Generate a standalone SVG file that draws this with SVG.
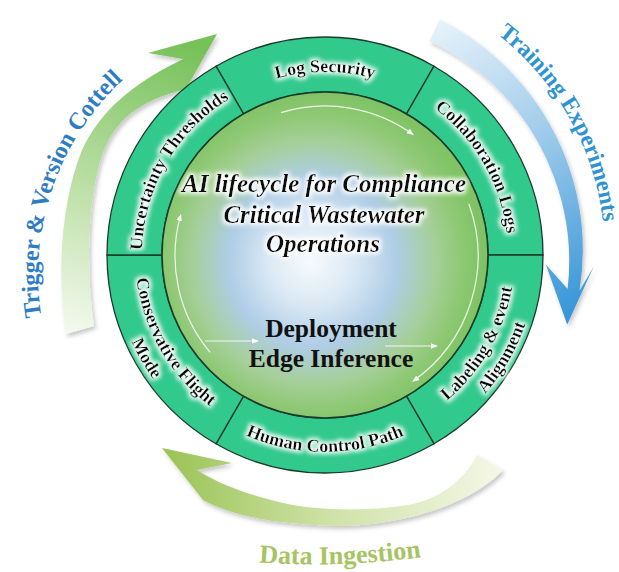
<svg xmlns="http://www.w3.org/2000/svg" width="619" height="572" viewBox="0 0 619 572">
  <defs>
    <style>
      .ring-txt { font-family: "Liberation Serif", "Times New Roman", serif; font-weight: bold; font-size: 18px; fill: #111; }
      .title { font-family: "Liberation Serif", "Times New Roman", serif; font-weight: bold; font-style: italic; font-size: 25px; fill: #111; text-anchor: middle; }
      .sub { font-family: "Liberation Serif", "Times New Roman", serif; font-weight: bold; font-size: 25.5px; fill: #111; text-anchor: middle; }
      .outer-lbl { font-family: "Liberation Serif", "Times New Roman", serif; font-weight: bold; }
      .seg { fill: #32c98d; stroke: #1b3a2b; stroke-width: 1.3; }
      .flow { fill: none; stroke: #ffffff; stroke-width: 1.2; stroke-opacity: 0.85; }
    </style>

    <!-- arrow fills -->
    <linearGradient id="gGreen" gradientUnits="userSpaceOnUse" x1="80" y1="335" x2="195" y2="45">
      <stop offset="0" stop-color="#f3f9ee"/>
      <stop offset="0.4" stop-color="#c2e2ad"/>
      <stop offset="1" stop-color="#76c159"/>
    </linearGradient>
    <linearGradient id="gBlue" gradientUnits="userSpaceOnUse" x1="435" y1="25" x2="575" y2="320">
      <stop offset="0" stop-color="#e6f2fa"/>
      <stop offset="0.4" stop-color="#a6cfec"/>
      <stop offset="1" stop-color="#3494d7"/>
    </linearGradient>
    <linearGradient id="gOlive" gradientUnits="userSpaceOnUse" x1="500" y1="460" x2="165" y2="455">
      <stop offset="0" stop-color="#f4f7e6"/>
      <stop offset="0.5" stop-color="#cfe2a7"/>
      <stop offset="1" stop-color="#9bc355"/>
    </linearGradient>
    <radialGradient id="gCore" gradientUnits="userSpaceOnUse" cx="315" cy="262" r="168" fx="310" fy="262">
      <stop offset="0" stop-color="#f7fafd"/>
      <stop offset="0.25" stop-color="#dbe9f4"/>
      <stop offset="0.5" stop-color="#afcde6"/>
      <stop offset="0.72" stop-color="#a6cf9a"/>
      <stop offset="0.88" stop-color="#8ec873"/>
      <stop offset="1" stop-color="#80c365"/>
    </radialGradient>

    <filter id="shadow" x="-15%" y="-15%" width="140%" height="140%">
      <feDropShadow dx="2" dy="3" stdDeviation="2" flood-color="#000" flood-opacity="0.22"/>
    </filter>
    <filter id="glow" x="-20%" y="-40%" width="140%" height="180%">
      <feMorphology in="SourceAlpha" operator="dilate" radius="1.5" result="d"/>
      <feGaussianBlur in="d" stdDeviation="2" result="b"/>
      <feFlood flood-color="#ffffff" flood-opacity="0.95"/>
      <feComposite in2="b" operator="in" result="g"/>
      <feMerge><feMergeNode in="g"/><feMergeNode in="SourceGraphic"/></feMerge>
    </filter>

    <marker id="wh" viewBox="0 0 10 10" refX="9" refY="5" markerWidth="7" markerHeight="7" markerUnits="userSpaceOnUse" orient="auto">
      <path d="M0,1 L10,5 L0,9 Z" fill="#ffffff"/>
    </marker>

    <!-- text baselines -->
    <path id="pLog" d="M233.5,96.5 A183,183 0 0 1 416.5,96.5"/>
    <path id="pCollab" d="M416.5,96.5 A183,183 0 0 1 508,255"/>
    <path id="pUnc" d="M142,255 A183,183 0 0 1 233.5,96.5"/>
    <path id="pHuman" d="M226.5,425.6 A197,197 0 0 0 423.5,425.6"/>
    <path id="pLab1" d="M420,419.5 A190,190 0 0 0 515,255"/>
    <path id="pLab2" d="M431,438.6 A212,212 0 0 0 537,255"/>
    <path id="pCon1" d="M135,255 A190,190 0 0 0 230,419.5"/>
    <path id="pCon2" d="M113,255 A212,212 0 0 0 219,438.6"/>
    <path id="pTrig" d="M41.3,316.8 A267,267 0 0 1 171.5,43.8"/>
    <path id="pTrain" d="M497.4,34.4 A280,280 0 0 1 600.7,303.6"/>
    <path id="pData" d="M215,558 Q338,574 465,550"/>
  </defs>

  <rect width="619" height="572" fill="#ffffff"/>

  <!-- cycle arrows around the ring -->
  <g id="connectors">
    <g id="arrow-trigger">
      <path filter="url(#shadow)" fill="url(#gGreen)" d="M66,334 C56,270 62,200 82,150 C100,112 130,85 183,59 L148,53 L217,34 L186,89 C150,98 120,112 104,150 C90,185 84,260 94,326 Z"/>
      <text class="outer-lbl" font-size="24" fill="#2e7dc4"><textPath href="#pTrig">Trigger &amp; Version Cottell</textPath></text>
    </g>
    <g id="arrow-training">
      <path filter="url(#shadow)" fill="url(#gBlue)" d="M439.9,19.5 A260,260 0 0 1 565.6,157.8 A258,258 0 0 1 579.5,290.8 L593.7,266.7 L567.2,324.5 L545.8,264.6 L567.6,289.1 A243,243 0 0 0 548.9,164.5 A240,240 0 0 0 429.3,41.1 Z"/>
      <text class="outer-lbl" font-size="23.5" fill="#2d93d2"><textPath href="#pTrain">Training Experiments</textPath></text>
    </g>
    <g id="arrow-ingestion">
      <path filter="url(#shadow)" fill="url(#gOlive)" d="M477,455 C465,480 440,497 417,503 C385,511 320,512 283,503 C255,497 220,485 197,470 L232,463 L162,448 L203,500 C225,512 260,522 317,525 C370,530 460,515 503,470 Z"/>
      <text class="outer-lbl" font-size="26" fill="#a7c462" text-anchor="middle"><textPath href="#pData" startOffset="50%">Data Ingestion</textPath></text>
    </g>
  </g>

  <!-- ring segments -->
  <g id="seg-log-security">
    <path class="seg" d="M216,66.2 A218,218 0 0 1 434,66.2 L406.5,113.8 A163,163 0 0 0 243.5,113.8 Z"/>
    <text class="ring-txt" filter="url(#glow)" text-anchor="middle"><textPath href="#pLog" startOffset="50%">Log Security</textPath></text>
  </g>
  <g id="seg-collaboration-logs">
    <path class="seg" d="M434,66.2 A218,218 0 0 1 543,255 L488,255 A163,163 0 0 0 406.5,113.8 Z"/>
    <text class="ring-txt" filter="url(#glow)" text-anchor="middle"><textPath href="#pCollab" startOffset="50%">Collaboration Logs</textPath></text>
  </g>
  <g id="seg-labeling">
    <path class="seg" d="M543,255 A218,218 0 0 1 434,443.8 L406.5,396.2 A163,163 0 0 0 488,255 Z"/>
    <text class="ring-txt" filter="url(#glow)" text-anchor="middle"><textPath href="#pLab1" startOffset="50%">Labeling &amp; event</textPath></text>
    <text class="ring-txt" filter="url(#glow)" text-anchor="middle"><textPath href="#pLab2" startOffset="50%">Alignment</textPath></text>
  </g>
  <g id="seg-human-control">
    <path class="seg" d="M434,443.8 A218,218 0 0 1 216,443.8 L243.5,396.2 A163,163 0 0 0 406.5,396.2 Z"/>
    <text class="ring-txt" filter="url(#glow)" text-anchor="middle"><textPath href="#pHuman" startOffset="50%">Human Control Path</textPath></text>
  </g>
  <g id="seg-conservative">
    <path class="seg" d="M216,443.8 A218,218 0 0 1 107,255 L162,255 A163,163 0 0 0 243.5,396.2 Z"/>
    <text class="ring-txt" filter="url(#glow)" text-anchor="middle"><textPath href="#pCon1" startOffset="50%">Conservative Flight</textPath></text>
    <text class="ring-txt" filter="url(#glow)" text-anchor="middle"><textPath href="#pCon2" startOffset="50%">Mode</textPath></text>
  </g>
  <g id="seg-uncertainty">
    <path class="seg" d="M107,255 A218,218 0 0 1 216,66.2 L243.5,113.8 A163,163 0 0 0 162,255 Z"/>
    <text class="ring-txt" filter="url(#glow)" text-anchor="middle"><textPath href="#pUnc" startOffset="50%">Uncertainty Thresholds</textPath></text>
  </g>

  <!-- core disc -->
  <g id="core">
    <circle cx="325" cy="255" r="163" fill="url(#gCore)" stroke="#1b3a2b" stroke-width="1.6"/>
    <g id="core-flows">
      <path class="flow" marker-end="url(#wh)" d="M281.1,112.6 A150,150 0 0 1 413.2,134.6"/>
      <path class="flow" marker-end="url(#wh)" d="M468.8,203.7 A153,153 0 0 1 412.8,381.3"/>
      <path class="flow" stroke-opacity="0.7" marker-end="url(#wh)" d="M210.1,352.4 A150,150 0 0 1 180.8,214.7"/>
      <path class="flow" marker-end="url(#wh)" d="M205,341 L258,341"/>
      <path class="flow" marker-end="url(#wh)" d="M385,346 L437,346"/>
    </g>
    <g filter="url(#glow)">
      <text class="title" x="324" y="192">AI lifecycle for Compliance</text>
      <text class="title" x="324" y="223">Critical Wastewater</text>
      <text class="title" x="323" y="252">Operations</text>
    </g>
    <text class="sub" x="331" y="337">Deployment</text>
    <text class="sub" x="331" y="367">Edge Inference</text>
  </g>
</svg>
